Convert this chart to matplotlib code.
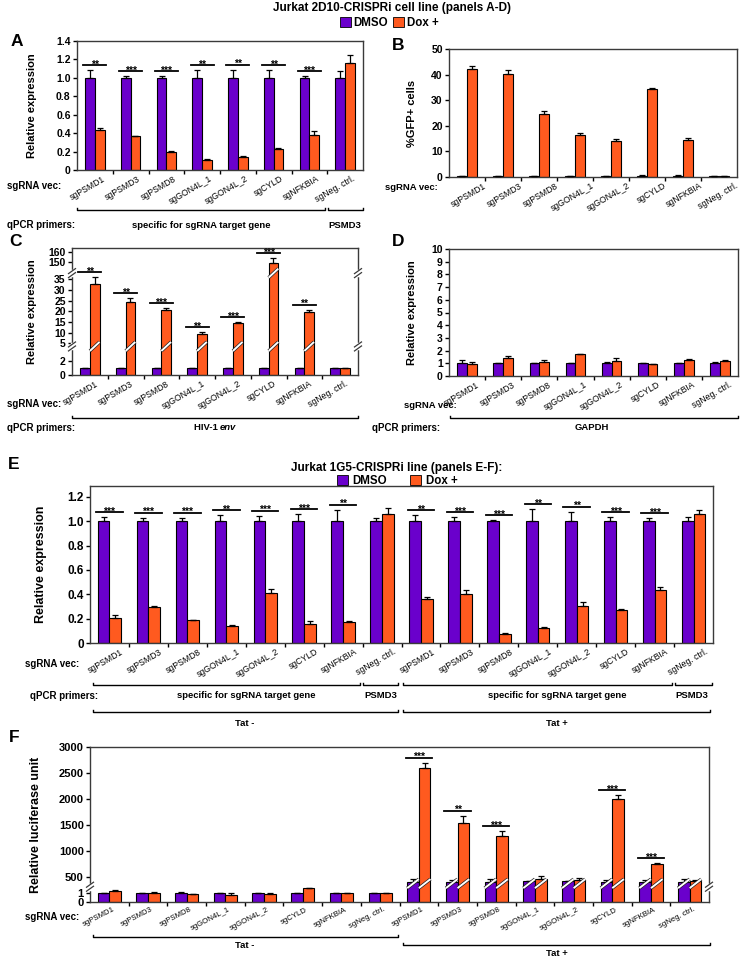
import matplotlib
matplotlib.use("Agg")
import matplotlib.pyplot as plt
import numpy as np
from matplotlib.lines import Line2D
from matplotlib.patches import Patch
from matplotlib.transforms import ScaledTranslation, blended_transform_factory

plt.rcParams["font.family"] = ["Liberation Sans", "DejaVu Sans"]

PURPLE = "#6a00cc"
ORANGE = "#ff5a1f"

genes = ["sgPSMD1", "sgPSMD3", "sgPSMD8", "sgGON4L_1", "sgGON4L_2",
         "sgCYLD", "sgNFKBIA", "sgNeg. ctrl."]

# panel A
a_dmso = [1.0, 1.0, 1.0, 1.0, 1.0, 1.0, 1.0, 1.0]
a_dmso_err = [0.085, 0.015, 0.02, 0.08, 0.087, 0.08, 0.02, 0.07]
a_dox = [0.433, 0.364, 0.196, 0.109, 0.138, 0.225, 0.375, 1.16]
a_dox_err = [0.025, 0.01, 0.01, 0.005, 0.01, 0.01, 0.044, 0.084]
a_sig = ["**", "***", "***", "**", "**", "**", "***", ""]

# panel B
b_dmso = [0.3, 0.2, 0.3, 0.3, 0.2, 0.5, 0.5, 0.3]
b_dmso_err = [0.15, 0.05, 0.1, 0.1, 0.05, 0.2, 0.2, 0.1]
b_dox = [42.0, 40.1, 24.5, 16.6, 14.1, 34.4, 14.4, 0.3]
b_dox_err = [1.5, 1.6, 1.4, 0.4, 0.6, 0.5, 0.7, 0.1]

# panel C
c_dmso = [1.0, 1.0, 1.0, 1.0, 1.0, 1.0, 1.0, 1.0]
c_dmso_err = [0.02, 0.02, 0.02, 0.02, 0.02, 0.02, 0.02, 0.05]
c_dox = [32.8, 24.2, 20.6, 9.4, 14.6, 149.4, 19.8, 0.92]
c_dox_err = [3.4, 1.9, 0.8, 0.9, 0.3, 4.8, 1.1, 0.03]
c_sig = ["**", "**", "***", "**", "***", "***", "**", ""]

# panel D
d_dmso = [1.05, 1.03, 1.03, 1.03, 1.05, 1.03, 1.03, 1.03]
d_dmso_err = [0.2, 0.03, 0.03, 0.03, 0.05, 0.03, 0.03, 0.04]
d_dox = [0.92, 1.39, 1.1, 1.71, 1.21, 0.95, 1.26, 1.19]
d_dox_err = [0.2, 0.15, 0.13, 0.05, 0.24, 0.02, 0.04, 0.05]

# panel E (Tat - then Tat +)
e_dmso = [1.0] * 16
e_dmso_err = [0.033, 0.03, 0.03, 0.05, 0.045, 0.06, 0.095, 0.025,
              0.05, 0.033, 0.011, 0.1, 0.08, 0.035, 0.025, 0.035]
e_dox = [0.208, 0.295, 0.186, 0.142, 0.407, 0.158, 0.175, 1.06,
         0.363, 0.399, 0.077, 0.12, 0.306, 0.268, 0.432, 1.057]
e_dox_err = [0.025, 0.005, 0.005, 0.005, 0.035, 0.022, 0.005, 0.05,
             0.014, 0.038, 0.008, 0.008, 0.033, 0.014, 0.025, 0.036]
e_sig = ["***", "***", "***", "**", "***", "***", "**", "",
         "**", "***", "***", "**", "**", "***", "***", ""]

# panel F
f_dmso = [1, 1, 1, 1, 1, 1, 1, 1, 404, 404, 404, 410, 410, 404, 404, 404]
f_dmso_err = [0.05, 0.05, 0.1, 0.05, 0.05, 0.05, 0.05, 0.05,
              45, 26, 58, 5, 8, 26, 26, 45]
f_dox = [1.26, 1.04, 0.89, 0.78, 0.85, 1.52, 1.0, 1.0,
         2596, 1538, 1282, 462, 442, 1994, 744, 417]
f_dox_err = [0.06, 0.08, 0.05, 0.22, 0.12, 0.06, 0.05, 0.05,
             103, 135, 96, 45, 39, 83, 19, 19]
f_sig = ["", "", "", "", "", "", "", "",
         "***", "**", "***", "", "", "***", "***", ""]

W, H = 740, 959
fig = plt.figure(figsize=(7.4, 9.59), dpi=100)


def add_ax(x0, y0, x1, y1):
    ax = fig.add_axes([x0 / W, 1 - y1 / H, (x1 - x0) / W, (y1 - y0) / H])
    ax.px = (x0, y0, x1, y1)
    for s in ax.spines.values():
        s.set_color("#3a3a3a")
        s.set_linewidth(1.0)
    return ax


def ftext(x, y, s, ha="left", size=7, **kw):
    fig.text(x / W, 1 - y / H, s, ha=ha, va="center", fontsize=size,
             fontweight="bold", **kw)


def bracket(x0, x1, y):
    fig.add_artist(Line2D([x0 / W, x0 / W, x1 / W, x1 / W],
                          [1 - (y - 2) / H, 1 - y / H, 1 - y / H, 1 - (y - 2) / H],
                          color="black", lw=1.0, transform=fig.transFigure))


def bars(ax, dmso, dmso_err, dox, dox_err, labels, width=0.27, lab_dx=6,
         lab_size=6.2, lab_rot=30):
    n = len(labels)
    x = np.arange(n)
    zero = np.zeros(n)
    ax.bar(x - width / 2, dmso, width, color=PURPLE, edgecolor="black", lw=0.8, zorder=2)
    ax.bar(x + width / 2, dox, width, color=ORANGE, edgecolor="black", lw=0.8, zorder=2)
    ax.errorbar(x - width / 2, dmso, yerr=[zero, dmso_err], fmt="none", ecolor="black",
                elinewidth=0.9, capsize=2.5, capthick=0.9, zorder=3)
    ax.errorbar(x + width / 2, dox, yerr=[zero, dox_err], fmt="none", ecolor="black",
                elinewidth=0.9, capsize=2.5, capthick=0.9, zorder=3)
    ax.set_xlim(-0.5, n - 0.5)
    ax.set_xticks(x)
    ax.set_xticklabels(labels, rotation=lab_rot, ha="right", rotation_mode="anchor",
                       fontsize=lab_size)
    ax.set_xticks(np.arange(1, n) - 0.5, minor=True)
    ax.tick_params(axis="x", which="major", length=0, pad=3)
    ax.tick_params(axis="x", which="minor", length=3, width=1, direction="out")
    off = ScaledTranslation(lab_dx / 100, 0, fig.dpi_scale_trans)
    for lbl in ax.get_xticklabels():
        lbl.set_transform(lbl.get_transform() + off)
    tops = np.maximum(np.array(dmso) + np.array(dmso_err), np.array(dox) + np.array(dox_err))
    return x, tops


def stars(ax, x, tops, sig, half=0.32, size=7.5):
    off = ax.transData + ScaledTranslation(0, 5 / 100, fig.dpi_scale_trans)
    toff = off + ScaledTranslation(0, -2.5 / 100, fig.dpi_scale_trans)
    for xi, t, s in zip(x, tops, sig):
        if s:
            ax.plot([xi - half, xi + half], [t, t], color="black", lw=1.3,
                    transform=off, clip_on=False)
            ax.text(xi, t, s, transform=toff, ha="center", va="baseline",
                    fontsize=size, fontweight="bold")


def yaxis(ax, ylim, ticks, labels, ylabel, label_x, size=7.5, lsize=8):
    ax.set_ylim(*ylim)
    ax.set_yticks(ticks)
    ax.set_yticklabels(labels, fontsize=size, fontweight="bold")
    ax.tick_params(axis="y", length=3, width=1, pad=1.5)
    ax.set_ylabel(ylabel, fontsize=lsize, fontweight="bold")
    x0, y0, x1, y1 = ax.px
    ax.yaxis.set_label_coords((label_x - x0) / (x1 - x0), 0.5)


def piecewise(dpts, ppts):
    dpts = np.asarray(dpts, float)
    ppts = np.asarray(ppts, float)
    return (lambda v: np.interp(v, dpts, ppts), lambda p: np.interp(p, ppts, dpts))


def frac_of(ax, fwd, v):
    lo, hi = ax.get_ylim()
    return (fwd(v) - fwd(lo)) / (fwd(hi) - fwd(lo))


def spine_break(ax, frac, sides=(0, 1)):
    x0, y0, x1, y1 = ax.px
    dx = 3.5 / (x1 - x0)
    dy = 2.5 / (y1 - y0)
    g = 2.0 / (y1 - y0)
    for sx in sides:
        ax.plot([sx, sx], [frac - g, frac + g], color="white", lw=2.5,
                transform=ax.transAxes, clip_on=False, zorder=5)
        for k in (-g, g):
            ax.plot([sx - dx, sx + dx], [frac + k - dy, frac + k + dy], color="#3a3a3a",
                    lw=0.9, transform=ax.transAxes, clip_on=False, zorder=6)


def bar_slash(ax, xc, frac, width):
    x0, y0, x1, y1 = ax.px
    s = 4.5 / (y1 - y0)
    tr = blended_transform_factory(ax.transData, ax.transAxes)
    ax.plot([xc - width / 2, xc + width / 2], [frac - s, frac + s], color="#202020",
            lw=2.4, transform=tr, zorder=4, solid_capstyle="butt")
    ax.plot([xc - width / 2, xc + width / 2], [frac - s, frac + s], color="white",
            lw=1.4, transform=tr, zorder=4, solid_capstyle="butt")


# ---- titles / legends ----
ftext(392, 8, "Jurkat 2D10-CRISPRi cell line (panels A-D)", ha="center", size=8.5)
handles = [Patch(fc=PURPLE, ec="black", lw=0.6), Patch(fc=ORANGE, ec="black", lw=0.6)]
fig.legend(handles, ["DMSO", "Dox +"], loc="center", bbox_to_anchor=(389 / W, 1 - 23 / H),
           ncol=2, frameon=False, prop={"weight": "bold", "size": 8.3},
           handlelength=0.95, handleheight=0.95, handletextpad=0.2, columnspacing=0.5,
           borderpad=0.1)
ftext(397, 468, "Jurkat 1G5-CRISPRi line (panels E-F):", ha="center", size=8.5)
fig.legend(handles, ["DMSO", "Dox +"], loc="center", bbox_to_anchor=(397 / W, 1 - 481 / H),
           ncol=2, frameon=False, prop={"weight": "bold", "size": 8.3},
           handlelength=0.95, handleheight=0.95, handletextpad=0.4, columnspacing=2.0,
           borderpad=0.1)

for letter, lx, ly in [("A", 17, 41), ("B", 398, 45), ("C", 15, 242),
                       ("D", 398, 242), ("E", 14, 464), ("F", 14, 737)]:
    ftext(lx, ly, letter, ha="center", size=12.5)

# ---- panel A ----
ax = add_ax(77, 41, 363, 170)
x, tops = bars(ax, a_dmso, a_dmso_err, a_dox, a_dox_err, genes, lab_dx=7)
yaxis(ax, (0, 1.4), np.arange(0, 1.41, 0.2),
      ["0"] + ["%.1f" % v for v in np.arange(0.2, 1.41, 0.2)], "Relative expression", 37)
stars(ax, x, tops, a_sig)
ftext(7, 186, "sgRNA vec:")
bracket(77, 325, 210)
bracket(328, 363, 210)
ftext(7, 225, "qPCR primers:")
ftext(201, 225, "specific for sgRNA target gene", ha="center", size=6.8)
ftext(345, 225, "PSMD3", ha="center", size=6.8)

# ---- panel B ----
ax = add_ax(449, 49, 737, 177)
bars(ax, b_dmso, b_dmso_err, b_dox, b_dox_err, genes, lab_dx=16)
yaxis(ax, (0, 50), np.arange(0, 51, 10), [str(v) for v in range(0, 51, 10)],
      "%GFP+ cells", 417)
ftext(385, 188, "sgRNA vec:", size=6.8)

# ---- panel C (broken axis) ----
ax = add_ax(72, 248, 358, 375)
c_fwd, c_inv = piecewise([0, 3.5, 3.5001, 38, 140, 165], [0, 75, 85.4, 306, 307, 384.5])
ax.set_yscale("function", functions=(c_fwd, c_inv))
x, tops = bars(ax, c_dmso, c_dmso_err, c_dox, c_dox_err, genes, lab_dx=5)
c_ticks = [0, 2, 5, 10, 15, 20, 25, 30, 35, 150, 160]
yaxis(ax, (0, 164), c_ticks, [str(v) for v in c_ticks], "Relative expression", 37)
ax.yaxis.set_minor_locator(matplotlib.ticker.NullLocator())
stars(ax, x, tops, c_sig)
low_f = frac_of(ax, c_fwd, 3.55)
high_f = frac_of(ax, c_fwd, 39)
spine_break(ax, low_f)
spine_break(ax, high_f)
for xi, v in zip(x, c_dox):
    if v > 3.5:
        bar_slash(ax, xi + 0.135, low_f, 0.27)
    if v > 140:
        bar_slash(ax, xi + 0.135, high_f, 0.27)
ftext(7, 404, "sgRNA vec:")
bracket(72, 358, 418)
ftext(7, 428, "qPCR primers:")
ftext(220, 428, "HIV-1 ", ha="right", size=6.8)
ftext(220, 428, "env", ha="left", size=6.8, style="italic")

# ---- panel D ----
ax = add_ax(449, 249, 738, 376)
bars(ax, d_dmso, d_dmso_err, d_dox, d_dox_err, genes, lab_dx=9)
yaxis(ax, (0, 10), np.arange(0, 11), [str(v) for v in range(11)], "Relative expression", 417)
ftext(404, 406, "sgRNA vec:", size=6.8)
bracket(450, 738, 418)
ftext(372, 428, "qPCR primers:")
ftext(592, 428, "GAPDH", ha="center", size=6.8)

# ---- panel E ----
ax = add_ax(90, 486, 713, 643)
x, tops = bars(ax, e_dmso, e_dmso_err, e_dox, e_dox_err, genes + genes, width=0.3,
               lab_dx=11, lab_size=6.2)
yaxis(ax, (0, 1.29), np.arange(0, 1.21, 0.2),
      ["0"] + ["%.1f" % v for v in np.arange(0.2, 1.21, 0.2)], "Relative expression", 47,
      size=8.5, lsize=9)
stars(ax, x, tops, e_sig, half=0.34)
ftext(25, 664, "sgRNA vec:")
bracket(93, 360, 685)
bracket(363, 398, 685)
bracket(403, 672, 685)
bracket(675, 712, 685)
ftext(30, 696, "qPCR primers:")
ftext(246, 696, "specific for sgRNA target gene", ha="center", size=6.8)
ftext(381, 696, "PSMD3", ha="center", size=6.8)
ftext(557, 696, "specific for sgRNA target gene", ha="center", size=6.8)
ftext(692, 696, "PSMD3", ha="center", size=6.8)
bracket(93, 398, 712)
bracket(403, 710, 712)
ftext(245, 723, "Tat -", ha="center", size=6.8)
ftext(557, 723, "Tat +", ha="center", size=6.8)

# ---- panel F (broken axis) ----
ax = add_ax(90, 747, 709, 902)
f_fwd, f_inv = piecewise([0, 1.7, 310, 3000], [0, 15.3, 15.5, 155.3])
ax.set_yscale("function", functions=(f_fwd, f_inv))
x, tops = bars(ax, f_dmso, f_dmso_err, f_dox, f_dox_err, genes + genes, width=0.3,
               lab_dx=3, lab_size=5.6, lab_rot=27)
f_ticks = [0, 1, 500, 1000, 1500, 2000, 2500, 3000]
yaxis(ax, (0, 3000), f_ticks, [str(v) for v in f_ticks], "Relative luciferase unit", 42,
      size=8, lsize=9)
ax.yaxis.set_minor_locator(matplotlib.ticker.NullLocator())
stars(ax, x, tops, f_sig, half=0.34)
brk_f = frac_of(ax, f_fwd, 1.75)
spine_break(ax, brk_f)
for xi, v1, v2 in zip(x, f_dmso, f_dox):
    if v1 > 300:
        bar_slash(ax, xi - 0.15, brk_f + 0.02, 0.3)
    if v2 > 300:
        bar_slash(ax, xi + 0.15, brk_f + 0.02, 0.3)
ftext(25, 917, "sgRNA vec:")
bracket(93, 398, 937)
bracket(403, 710, 945)
ftext(245, 946, "Tat -", ha="center", size=6.8)
ftext(557, 953, "Tat +", ha="center", size=6.8)

fig.savefig("out.png", dpi=100)
